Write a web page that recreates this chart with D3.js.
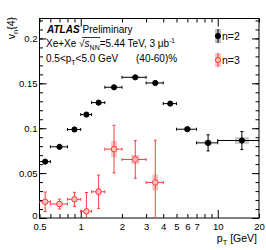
<!DOCTYPE html>
<html><head><meta charset="utf-8">
<script src="https://cdn.jsdelivr.net/npm/d3@7"></script>
<style>body{margin:0;background:#fff}svg{display:block}text{font-family:"Liberation Sans",Arial,sans-serif}</style>
</head><body>
<svg id="c" width="266" height="250"></svg>
<script>
// ---- data ----
const binLo = [0.5,0.6,0.8,1.0,1.2,1.5,2.0,3.0,4.0,5.0,7.0,10];
const binHi = [0.6,0.8,1.0,1.2,1.5,2.0,3.0,4.0,5.0,7.0,10,20];
const ptCenter = [0.55,0.7,0.9,1.1,1.35,1.75,2.5,3.5,4.5,6,8.5,15];
const v2 = [0.0628,0.0793,0.0986,0.1152,0.1285,0.1456,0.1567,0.1504,0.1274,0.0989,0.0837,0.0863];
const v2Stat = [0.001,0.001,0.001,0.001,0.001,0.001,0.001,0.001,0.0015,0.002,0.009,0.010];
const v2Sys = [0.001,0.001,0.001,0.001,0.001,0.001,0.0012,0.0012,0.0015,0.002,0.003,0.0037];
const v3 = [0.0181,0.0156,0.0208,0.0074,0.0292,0.0767,0.0652,0.0396];
const v3Stat = [0.0108,0.0055,0.0078,0.021,0.0185,0.0265,0.021,0.047];
const v3Sys = [0.003,0.002,0.003,0.003,0.004,0.009,0.005,0.009];
const xTickLabels = [0.5,1,2,3,4,5,6,7,10,20];
const xMinorTicks = [0.6,0.7,0.8,0.9,8,9];
const xMajorTicks = [1,10];
const yMajor = [0,0.05,0.1,0.15,0.2];
const yMinor = d3.range(0,0.2201,0.01);

const svg = d3.select("#c");
const L=39.5,R=259,T=18.5,B=218;
const x = d3.scaleLog().domain([0.5,20]).range([L,R]);
const y = d3.scaleLinear().domain([0,0.2222]).range([B,T]);

svg.append("defs").append("clipPath").attr("id","clip")
  .append("rect").attr("x",L).attr("y",T).attr("width",R-L).attr("height",B-T);

function styleAxis(g){g.select(".domain").remove();g.selectAll("line").attr("stroke","#000");g.selectAll("text").attr("fill","#000").style("font-size","9.5px").style("font-family",'"Liberation Sans",Arial,sans-serif');}
const allX = xTickLabels.concat(xMinorTicks);
const shortX = allX.filter(v=>!xMajorTicks.includes(v));
// bottom
svg.append("g").attr("transform",`translate(0,${B})`)
  .call(d3.axisBottom(x).tickValues(shortX).tickSize(-4).tickFormat("")).call(styleAxis);
svg.append("g").attr("transform",`translate(0,${B})`)
  .call(d3.axisBottom(x).tickValues(xMajorTicks).tickSize(-8).tickFormat("")).call(styleAxis);
svg.append("g").attr("transform",`translate(0,${B})`)
  .call(d3.axisBottom(x).tickValues(xTickLabels).tickSize(0).tickPadding(5).tickFormat(d=>String(d))).call(styleAxis);
// top
svg.append("g").attr("transform",`translate(0,${T})`)
  .call(d3.axisTop(x).tickValues(shortX).tickSize(-4).tickFormat("")).call(styleAxis);
svg.append("g").attr("transform",`translate(0,${T})`)
  .call(d3.axisTop(x).tickValues(xMajorTicks).tickSize(-8).tickFormat("")).call(styleAxis);
// left
svg.append("g").attr("transform",`translate(${L},0)`)
  .call(d3.axisLeft(y).tickValues(yMinor).tickSize(-3.5).tickFormat("")).call(styleAxis);
const yl = svg.append("g").attr("transform",`translate(${L},0)`)
  .call(d3.axisLeft(y).tickValues(yMajor).tickSize(-7).tickPadding(2).tickFormat(d=>d===0?"0":String(+d.toFixed(2)))).call(styleAxis);
yl.selectAll("text").filter(d=>d===0).attr("dy","0.1em");
// right
svg.append("g").attr("transform",`translate(${R},0)`)
  .call(d3.axisRight(y).tickValues(yMinor).tickSize(-3.5).tickFormat("")).call(styleAxis);
svg.append("g").attr("transform",`translate(${R},0)`)
  .call(d3.axisRight(y).tickValues(yMajor).tickSize(-7).tickFormat("")).call(styleAxis);

// frame
svg.append("rect").attr("x",L).attr("y",T).attr("width",R-L).attr("height",B-T)
  .attr("fill","none").attr("stroke","#000").attr("stroke-width",1);

const plot = svg.append("g").attr("clip-path","url(#clip)");
function drawSeries(vals, stat, sys, color, boxColor, markerFill, r){
  const n = vals.length;
  const d = d3.range(n).map(i=>({c:ptCenter[i],lo:binLo[i],hi:binHi[i],v:vals[i],s:stat[i],sy:sys[i]}));
  const g = plot.append("g");
  g.selectAll("rect.sys").data(d).enter().append("rect")
    .attr("x",e=>x(e.c)-0.17*(x(e.hi)-x(e.lo)))
    .attr("width",e=>0.34*(x(e.hi)-x(e.lo)))
    .attr("y",e=>y(e.v+e.sy)).attr("height",e=>y(e.v-e.sy)-y(e.v+e.sy))
    .attr("fill",boxColor);
  g.selectAll("line.h").data(d).enter().append("line")
    .attr("x1",e=>x(e.lo)).attr("x2",e=>x(e.hi)).attr("y1",e=>y(e.v)).attr("y2",e=>y(e.v))
    .attr("stroke",color).attr("stroke-width",1);
  ["lo","hi"].forEach(k=>{
    g.selectAll("line.c"+k).data(d).enter().append("line")
      .attr("x1",e=>x(e[k])).attr("x2",e=>x(e[k])).attr("y1",e=>y(e.v)-1.5).attr("y2",e=>y(e.v)+1.5)
      .attr("stroke",color).attr("stroke-width",1);
  });
  g.selectAll("line.v").data(d).enter().append("line")
    .attr("x1",e=>x(e.c)).attr("x2",e=>x(e.c)).attr("y1",e=>y(e.v+e.s)).attr("y2",e=>y(e.v-e.s))
    .attr("stroke",color).attr("stroke-width",1);
  [1,-1].forEach(sg=>{
    g.selectAll("line.vc").data(d.filter(e=>y(e.v-e.s)-y(e.v+e.s)>2*r+2)).enter().append("line")
      .attr("x1",e=>x(e.c)-1.5).attr("x2",e=>x(e.c)+1.5).attr("y1",e=>y(e.v+sg*e.s)).attr("y2",e=>y(e.v+sg*e.s))
      .attr("stroke",color).attr("stroke-width",1);
  });
  g.selectAll("circle").data(d).enter().append("circle")
    .attr("cx",e=>x(e.c)).attr("cy",e=>y(e.v)).attr("r",r)
    .attr("fill",markerFill).attr("stroke",color).attr("stroke-width",1);
}
drawSeries(v2,v2Stat,v2Sys,"#000","#c8c8c8","#000",2.6);
drawSeries(v3,v3Stat,v3Sys,"#ff3b3b","#ffc4c4","#ffbcbc",2.8);

// legend
function legend(yy,color,boxColor,fill,label){
  svg.append("rect").attr("x",215).attr("y",yy-7).attr("width",6).attr("height",14).attr("fill",boxColor);
  svg.append("line").attr("x1",218).attr("x2",218).attr("y1",yy-7).attr("y2",yy+7).attr("stroke",color);
  svg.append("line").attr("x1",215).attr("x2",221).attr("y1",yy).attr("y2",yy).attr("stroke",color);
  svg.append("circle").attr("cx",218).attr("cy",yy).attr("r",2.6).attr("fill",fill).attr("stroke",color);
  svg.append("text").attr("x",222).attr("y",yy+3.8).style("font-size","10.5px").text(label);
}
legend(36,"#000","#c0c0c0","#000","n=2");
legend(60,"#ff3b3b","#ffc4c4","#ffbcbc","n=3");

// texts
const t1 = svg.append("text").attr("x",47).attr("y",33).style("font-size","10px");
t1.append("tspan").style("font-weight","bold").style("font-style","italic").text("ATLAS");
t1.append("tspan").attr("dx",3).text("Preliminary");
const t2 = svg.append("text").attr("x",46).attr("y",47).style("font-size","10px");
t2.append("tspan").text("Xe+Xe \u221A");
t2.append("tspan").style("font-style","italic").text("s");
t2.append("tspan").attr("dy",2.5).style("font-size","7px").text("NN");
t2.append("tspan").attr("dy",-2.5).text("=5.44 TeV, 3 \u03BCb");
t2.append("tspan").attr("dy",-4).style("font-size","6.5px").text("-1");
// overline of the square root over s_NN
{
  const node = t2.node();
  const sIdx = "Xe+Xe \u221A".length;
  const p0 = node.getStartPositionOfChar(sIdx-1);
  const p1 = node.getEndPositionOfChar(sIdx+2);
  svg.append("line").attr("x1",p0.x+3).attr("x2",p1.x+0.5).attr("y1",37.5).attr("y2",37.5)
    .attr("stroke","#000").attr("stroke-width",0.8);
}
const t3 = svg.append("text").attr("x",46).attr("y",62).style("font-size","10px");
t3.append("tspan").text("0.5<p");
t3.append("tspan").attr("dy",2.5).style("font-size","7px").text("T");
t3.append("tspan").attr("dy",-2.5).text("<5.0 GeV");
svg.append("text").attr("x",136).attr("y",62).style("font-size","10px").text("(40-60)%");

// axis titles
const xt = svg.append("text").attr("x",257).attr("y",242).attr("text-anchor","end").style("font-size","10.5px");
xt.append("tspan").text("p");
xt.append("tspan").attr("dy",2.5).style("font-size","7.5px").text("T");
xt.append("tspan").attr("dy",-2.5).text(" [GeV]");
const yt = svg.append("text").attr("transform","translate(15,17) rotate(-90)").attr("text-anchor","end").style("font-size","10.5px");
yt.append("tspan").text("v");
yt.append("tspan").attr("dy",2.5).style("font-size","7.5px").text("n");
yt.append("tspan").attr("dy",-2.5).text("{4}");
</script>
</body></html>
